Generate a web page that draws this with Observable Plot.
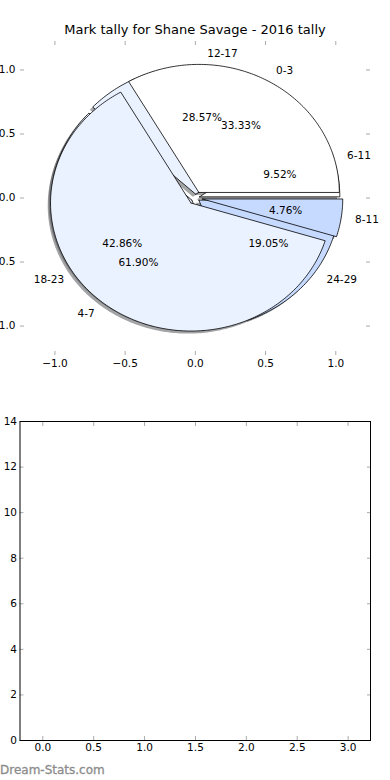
<!DOCTYPE html>
<html><head><meta charset="utf-8">
<script src="https://cdn.jsdelivr.net/npm/d3@7"></script>
<script src="https://cdn.jsdelivr.net/npm/@observablehq/plot@0.6"></script>
<style>
body{margin:0;background:#fff;}
#wrap{position:relative;width:390px;height:780px;overflow:hidden;font-family:"DejaVu Sans",sans-serif;}
#title{position:absolute;top:22px;left:0;width:390px;text-align:center;font-size:13px;color:#000;line-height:16px;}
#wm{position:absolute;left:0;top:763px;font-size:12px;color:#8c8c8c;line-height:14px;-webkit-text-stroke:0.3px #8c8c8c;}
#c1 svg,#c2 svg{display:block;}
</style></head><body>
<div id="wrap">
<div id="c1"></div>
<div id="c2"></div>
<div id="title"></div>
<div id="wm"></div>
</div>
<script>
const chartTitle = "Mark tally for Shane Savage - 2016 tally";
const watermark = "Dream-Stats.com";

// first pie (drawn on top)
const pie1Labels = ["0-3", "4-7", "8-11"];
const pie1Values = [7, 13, 1];
const pie1Colors = ["#ffffff", "#ebf2ff", "#c6daff"];
const pie1Explode = [0.05, 0.05, 0.05];

// second pie (drawn underneath)
const pie2Labels = ["6-11", "12-17", "18-23", "24-29"];
const pie2Values = [2, 6, 9, 4];
const pie2Colors = ["#ffffff", "#ebf2ff", "#ebf2ff", "#c6daff"];
const pie2Explode = [0.03, 0.03, 0.03, 0.03];

const pieTicks = [-1, -0.5, 0, 0.5, 1];
const barXTicks = [0, 0.5, 1, 1.5, 2, 2.5, 3];
const barYTicks = [0, 2, 4, 6, 8, 10, 12, 14];

document.getElementById("title").textContent = chartTitle;
document.getElementById("wm").textContent = watermark;

function buildPie(id, labels, values, colors, explode) {
  const total = d3.sum(values);
  let a = 0;
  return values.map((v, i) => {
    const a1 = a, a2 = a + 360 * v / total; a = a2;
    const mid = (a1 + a2) / 2 * Math.PI / 180;
    const cx = explode[i] * Math.cos(mid), cy = explode[i] * Math.sin(mid);
    const pts = [[cx, cy]];
    const n = Math.max(2, Math.ceil(a2 - a1));
    for (let k = 0; k <= n; k++) {
      const t = (a1 + (a2 - a1) * k / n) * Math.PI / 180;
      pts.push([cx + Math.cos(t), cy + Math.sin(t)]);
    }
    pts.push([cx, cy]);
    const c = d3.rgb(colors[i]);
    const shadow = d3.rgb(c.r * 0.3, c.g * 0.3, c.b * 0.3).formatHex();
    return {
      id: id + "-" + i, label: labels[i], pct: (100 * v / total).toFixed(2) + "%",
      color: colors[i], shadow, pts,
      lx: cx + 1.1 * Math.cos(mid), ly: cy + 1.1 * Math.sin(mid),
      px: cx + 0.6 * Math.cos(mid), py: cy + 0.6 * Math.sin(mid)
    };
  });
}

const pie2 = buildPie("b", pie2Labels, pie2Values, pie2Colors, pie2Explode);
const pie1 = buildPie("a", pie1Labels, pie1Values, pie1Colors, pie1Explode);
const allWedges = [...pie2, ...pie1];

const wedgeRows = allWedges.flatMap(w => w.pts.map(([x, y]) => ({id: w.id, x, y, fill: w.color})));
const shadowRows = allWedges.flatMap(w => w.pts.map(([x, y]) => ({id: w.id, x: x - 0.02, y: y - 0.02, fill: w.shadow})));

const tickStyle = {stroke: "#aaa", strokeWidth: 1, fill: "none", label: null, tickSize: 4};
const fmt1 = d3.format(".1f");

const p1 = Plot.plot({
  width: 390, height: 380,
  marginTop: 40, marginBottom: 25, marginLeft: 20, marginRight: 21,
  x: {domain: [-1.245, 1.24]},
  y: {domain: [-1.23, 1.23]},
  color: {type: "identity"},
  style: {fontFamily: "DejaVu Sans", fontSize: "10.5px", background: "white", color: "black"},
  marks: [
    Plot.line(shadowRows, {x: "x", y: "y", z: "id", fill: "fill", fillOpacity: 0.5, stroke: null}),
    Plot.line(wedgeRows, {x: "x", y: "y", z: "id", fill: "fill", stroke: "black", strokeWidth: 0.8, strokeLinejoin: "miter"}),
    Plot.text(allWedges, {x: "px", y: "py", text: "pct", textAnchor: "middle", fill: "black"}),
    Plot.text(allWedges.filter(w => w.lx > 0), {x: "lx", y: "ly", text: "label", textAnchor: "start", fill: "black"}),
    Plot.text(allWedges.filter(w => w.lx <= 0), {x: "lx", y: "ly", text: "label", textAnchor: "end", fill: "black"}),
    Plot.axisX(pieTicks, {anchor: "top", ...tickStyle, dy: 4}),
    Plot.axisX(pieTicks, {anchor: "bottom", ...tickStyle, dy: -4}),
    Plot.axisY(pieTicks, {anchor: "left", ...tickStyle, dx: 4}),
    Plot.axisY(pieTicks, {anchor: "right", ...tickStyle, dx: -4}),
    Plot.axisX(pieTicks, {anchor: "bottom", tickSize: 0, tickPadding: 4, tickFormat: fmt1, label: null}),
    Plot.axisY(pieTicks, {anchor: "left", tickSize: 0, tickPadding: 5, tickFormat: fmt1, label: null})
  ]
});
document.getElementById("c1").append(p1);

const p2 = Plot.plot({
  width: 390, height: 400,
  marginTop: 41, marginBottom: 40, marginLeft: 19.5, marginRight: 20,
  x: {domain: [-0.224, 3.22]},
  y: {domain: [0, 14]},
  style: {fontFamily: "DejaVu Sans", fontSize: "10.5px", background: "white", color: "black"},
  marks: [
    Plot.axisX(barXTicks, {anchor: "top", ...tickStyle, dy: 4}),
    Plot.axisX(barXTicks, {anchor: "bottom", ...tickStyle, dy: -4}),
    Plot.axisY(barYTicks, {anchor: "left", ...tickStyle, dx: 4}),
    Plot.axisY(barYTicks, {anchor: "right", ...tickStyle, dx: -4}),
    Plot.axisX(barXTicks, {anchor: "bottom", tickSize: 0, tickPadding: 3, tickFormat: fmt1, label: null}),
    Plot.axisY(barYTicks, {anchor: "left", tickSize: 0, tickPadding: 3, tickFormat: d3.format("d"), label: null}),
    Plot.frame({stroke: "black", strokeWidth: 1})
  ]
});
document.getElementById("c2").append(p2);
</script>
</body></html>
